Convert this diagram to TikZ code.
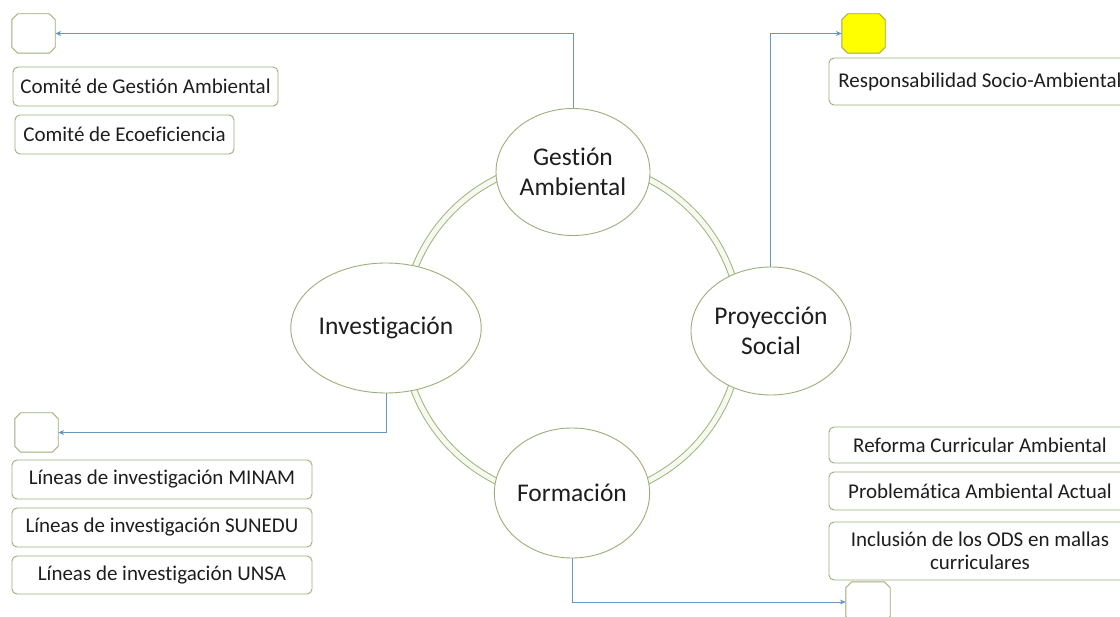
\documentclass[tikz,border=0pt]{standalone}
\usepackage{fontspec}
\setmainfont{Carlito}[Ligatures={NoCommon}]
\usetikzlibrary{shapes.geometric,arrows.meta,calc}
\definecolor{boxc}{RGB}{155,175,122}
\definecolor{ringc}{RGB}{160,180,125}
\definecolor{ringfill}{RGB}{246,249,240}
\definecolor{arrc}{RGB}{105,150,190}
\definecolor{yel}{RGB}{255,255,0}
\definecolor{yelb}{RGB}{165,165,60}
\definecolor{txt}{RGB}{30,30,30}
\tikzset{
  x=1pt, y=-1pt,
  itembox/.style={draw=boxc, line width=0.9pt, rounded corners=5pt, fill=white, text=txt,
    inner sep=0pt, font=\fontsize{21}{23}\selectfont, align=center},
  octnode/.style={rectangle, draw=none, inner sep=0pt},
  octline/.style={draw=boxc, line width=0.9pt, fill=white},
  bubble/.style={ellipse, draw=boxc, line width=0.9pt, fill=white, inner sep=0pt, text=txt,
    font=\fontsize{25.5}{30}\selectfont, align=center},
  link/.style={draw=arrc, line width=1pt, -{Stealth[length=6pt,width=5pt]}},
}
\newcommand{\octa}[2][]{%
  \path[octline,#1] ($(#2.north west)+(6,0)$) -- ($(#2.north east)+(-6,0)$)
    -- ($(#2.north east)+(0,6)$) -- ($(#2.south east)+(0,-6)$)
    -- ($(#2.south east)+(-6,0)$) -- ($(#2.south west)+(6,0)$)
    -- ($(#2.south west)+(0,-6)$) -- ($(#2.north west)+(0,6)$) -- cycle;}
\begin{document}
\begin{tikzpicture}
\useasboundingbox (0,0) rectangle (1120,617);
\fill[white] (0,0) rectangle (1120,617);
% ring
\draw[ringc, line width=1pt, double=ringfill, double distance=5pt] (572,330) circle[radius=169];
% ellipses
\node[bubble, minimum width=154pt, minimum height=127pt] (gest) at (573,172) {Gestión\\Ambiental};
\node[bubble, minimum width=152pt, minimum height=130pt] (inv) at (386,328) {Investigación};
\node[bubble, minimum width=152pt, minimum height=128pt] (proy) at (771,331) {Proyección\\Social};
\node[bubble, minimum width=151pt, minimum height=130pt] (form) at (572,493) {Formación};
\coordinate (ps) at (770,267);
% octagons
\node[octnode, minimum width=43pt, minimum height=39pt] (o1) at (33.5,33.5) {};
\node[octnode, minimum width=43pt, minimum height=39pt] (o2) at (863.5,33.5) {};
\node[octnode, minimum width=43pt, minimum height=39pt] (o3) at (36.5,432.5) {};
\node[octnode, minimum width=44pt, minimum height=40pt] (o4) at (868,602) {};
\octa{o1}
\octa[fill=yel, draw=yelb]{o2}
\octa{o3}
\octa{o4}
% boxes top-left
\node[itembox, minimum width=265pt, minimum height=39pt] (c1) at (145.5,86.5) {Comité de Gestión Ambiental};
\node[itembox, minimum width=219pt, minimum height=39pt] (c2) at (124.5,134.5) {Comité de Ecoeficiencia};
% top-right
\node[itembox, minimum width=302pt, minimum height=47pt] (r1) at (980,81.5) {Responsabilidad Socio-Ambiental};
% bottom-left
\node[itembox, minimum width=300pt, minimum height=39pt] (l1) at (162,479.5) {Líneas de investigación MINAM};
\node[itembox, minimum width=300pt, minimum height=39pt] (l2) at (162,527.5) {Líneas de investigación SUNEDU};
\node[itembox, minimum width=300pt, minimum height=38pt] (l3) at (162,575) {Líneas de investigación UNSA};
% bottom-right
\node[itembox, minimum width=302pt, minimum height=36pt] (f1) at (980,445) {Reforma Curricular Ambiental};
\node[itembox, minimum width=302pt, minimum height=38pt] (f2) at (980,491) {Problemática Ambiental Actual};
\node[itembox, minimum width=302pt, minimum height=58pt] (f3) at (980,551) {Inclusión de los ODS en mallas\\curriculares};
% connectors
\draw[link] (gest.north) |- (o1.east);
\draw[link] (ps) |- (o2.west);
\draw[link] (inv.south) |- (o3.east);
\draw[link] (form.south) |- (o4.west);
\end{tikzpicture}
\end{document}
